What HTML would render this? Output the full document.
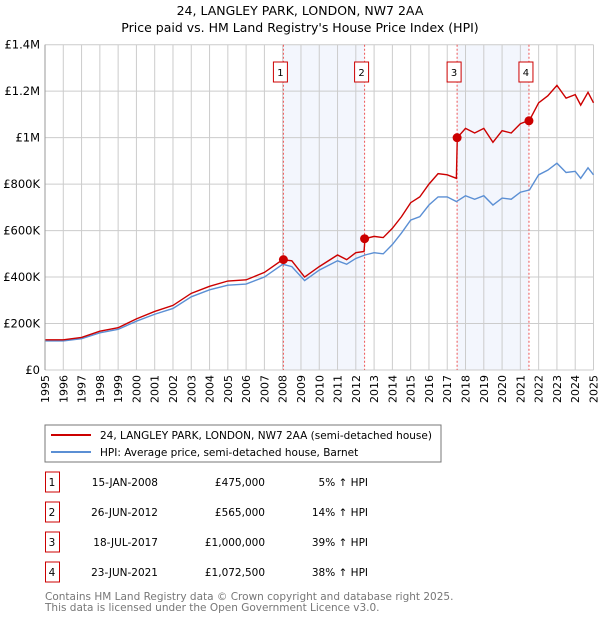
<!DOCTYPE html>
<html><head><meta charset="utf-8"><style>
body{margin:0;background:#fff;font-family:"DejaVu Sans","Liberation Sans",sans-serif;}
svg text{font-family:"DejaVu Sans","Liberation Sans",sans-serif;}
</style></head><body>
<svg id="c" width="600" height="620" xmlns="http://www.w3.org/2000/svg">
<text x="300" y="15" text-anchor="middle" font-size="12.5">24, LANGLEY PARK, LONDON, NW7 2AA</text>
<text x="300" y="32" text-anchor="middle" font-size="12.5">Price paid vs. HM Land Registry's House Price Index (HPI)</text>
<g id="plot"></g>
<rect x="45" y="425" width="396" height="37" fill="#fff" stroke="#777"/>
<line x1="51" y1="435" x2="91" y2="435" stroke="#cc0000" stroke-width="2"/>
<text x="100" y="439" font-size="10.5">24, LANGLEY PARK, LONDON, NW7 2AA (semi-detached house)</text>
<line x1="51" y1="452" x2="91" y2="452" stroke="#5b8fd4" stroke-width="2"/>
<text x="100" y="456" font-size="10.5">HPI: Average price, semi-detached house, Barnet</text>
<g id="tbl" font-size="10.5"></g>
<text x="45" y="600" font-size="10.5" fill="#777">Contains HM Land Registry data © Crown copyright and database right 2025.</text>
<text x="45" y="611" font-size="10.5" fill="#777">This data is licensed under the Open Government Licence v3.0.</text>
</svg>
<script>
const hpiYears=[1995,1996,1997,1998,1999,2000,2001,2002,2003,2004,2005,2006,2007,2008,2008.5,2009.2,2010,2011,2011.5,2012,2012.5,2013,2013.5,2014,2014.5,2015,2015.5,2016,2016.5,2017,2017.5,2018,2018.5,2019,2019.5,2020,2020.5,2021,2021.5,2022,2022.5,2023,2023.5,2024,2024.3,2024.7,2025];
const hpiValues=[125,125,135,160,175,210,240,265,315,345,365,370,400,455,445,385,430,470,455,480,495,505,500,540,590,645,660,710,745,745,725,750,735,750,710,740,735,765,775,840,860,890,850,855,825,870,840];
const priceYears=[1995,1996,1997,1998,1999,2000,2001,2002,2003,2004,2005,2006,2007,2008,2008.5,2009.2,2010,2011,2011.5,2012,2012.45,2012.5,2013,2013.5,2014,2014.5,2015,2015.5,2016,2016.5,2017,2017.5,2017.55,2018,2018.5,2019,2019.5,2020,2020.5,2021,2021.5,2022,2022.5,2023,2023.5,2024,2024.3,2024.7,2025];
const priceValues=[130,130,140,167,182,220,252,278,330,360,383,388,420,475,470,400,445,495,475,505,510,565,575,570,610,660,720,745,800,845,840,825,1000,1040,1020,1040,980,1030,1020,1060,1075,1150,1180,1225,1170,1185,1140,1195,1150];
const saleDates=[2008.04,2012.48,2017.54,2021.47];
const saleValues=[475,565,1000,1072.5];
const saleLabels=["15-JAN-2008","26-JUN-2012","18-JUL-2017","23-JUN-2021"];
const salePrices=["£475,000","£565,000","£1,000,000","£1,072,500"];
const saleHpi=["5% ↑ HPI","14% ↑ HPI","39% ↑ HPI","38% ↑ HPI"];
const yTicks=[0,200,400,600,800,1000,1200,1400];
const yTickLabels=["£0","£200K","£400K","£600K","£800K","£1M","£1.2M","£1.4M"];
const NS="http://www.w3.org/2000/svg";
const X0=45,X1=593.5,Y0=370,Y1=44.7;
const xs=y=>X0+(y-1995)/30*(X1-X0);
const ys=v=>Y0-v/1400*(Y0-Y1);
const g=document.getElementById('plot');
function mk(t,a,p){const e=document.createElementNS(NS,t);for(const k in a)e.setAttribute(k,a[k]);(p||g).appendChild(e);return e;}
for(let i=0;i<2;i++){const r=mk('rect',{x:xs(saleDates[i*2]),y:Y1,width:xs(saleDates[i*2+1])-xs(saleDates[i*2]),height:Y0-Y1,fill:'#f3f6fd'});

}
for(let yr=1995;yr<=2025;yr++){const l=mk('line',{x1:xs(yr),x2:xs(yr),y1:Y1,y2:Y0,stroke:'#ccc','stroke-width':1});


const t=mk('text',{x:0,y:0,'font-size':11,'text-anchor':'end',transform:`translate(${xs(yr)+4},${Y0+5}) rotate(-90)`});t.textContent=yr;

}
yTicks.forEach((v,i)=>{const l=mk('line',{x1:X0,x2:X1,y1:ys(v),y2:ys(v),stroke:'#ccc','stroke-width':1});


const t=mk('text',{x:X0-5,y:ys(v)+4,'font-size':11.5,'text-anchor':'end'});t.textContent=yTickLabels[i];

});
saleDates.forEach((d,i)=>{const l=mk('line',{x1:xs(d),x2:xs(d),y1:Y1,y2:Y0,stroke:'#e55','stroke-width':1,'stroke-dasharray':'2,2'});


const b=mk('rect',{x:xs(d)-10,y:62,width:14,height:20,fill:'#fff',stroke:'#c00'});


const t=mk('text',{x:xs(d)-3,y:76,'font-size':10,'text-anchor':'middle'});t.textContent=i+1;

});
const hp=mk('polyline',{points:hpiYears.map((y,i)=>xs(y)+','+ys(hpiValues[i])).join(' '),fill:'none',stroke:'#5b8fd4','stroke-width':1.4});


const pp=mk('polyline',{points:priceYears.map((y,i)=>xs(y)+','+ys(priceValues[i])).join(' '),fill:'none',stroke:'#cc0000','stroke-width':1.4});


saleDates.forEach((d,i)=>{const c=mk('circle',{cx:xs(d),cy:ys(saleValues[i]),r:4.5,fill:'#cc0000'});

});
const ax=mk('line',{x1:X0,x2:X0,y1:Y1,y2:Y0,stroke:'#999'});
const tb=document.getElementById('tbl');
saleLabels.forEach((s,i)=>{const y=483+i*30;
const b=mk('rect',{x:45.5,y:y-11,width:14,height:20,fill:'#fff',stroke:'#c00'},tb);


const cells=[[52,'middle',String(i+1)],[158,'end',s],[265,'end',salePrices[i]],[368,'end',saleHpi[i]]];
cells.forEach(c=>{const t=mk('text',{x:c[0],y:y+3,'text-anchor':c[1]},tb);t.textContent=c[2];

});});
</script>
</body></html>
